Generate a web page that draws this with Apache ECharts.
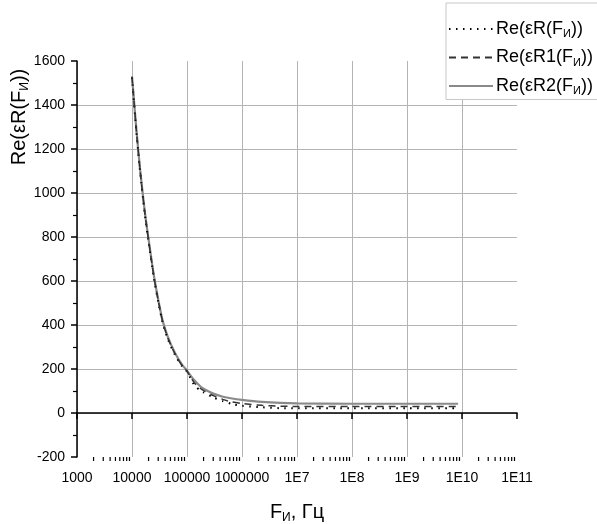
<!DOCTYPE html>
<html>
<head>
<meta charset="utf-8">
<script src="https://cdn.jsdelivr.net/npm/echarts@6/dist/echarts.min.js"></script>
<style>
  html, body { margin: 0; padding: 0; background: #fff; }
  #chart { width: 597px; height: 524px; }
</style>
</head>
<body>
<div id="chart"></div>
<script>
// частоты, Гц (общие для трёх кривых)
var freqs = [1e4, 1.2e4, 1.4e4, 1.7e4, 2e4, 2.5e4, 3e4, 3.6e4, 4.5e4, 6e4, 8e4, 1e5,
  1.35e5, 1.7e5, 2e5, 3e5, 4.5e5, 6.6e5, 1e6, 2.3e6, 5e6, 1e7, 1e8, 1e9, 8.5e9]
// Re(εR(F))  - пунктир точками
var reR = [1525, 1280, 1100, 910, 780, 615, 505, 412, 335, 266, 215, 188,
  128, 104, 94, 71, 54, 41, 33, 26, 22, 22, 22, 22, 22]
// Re(εR1(F)) - штрихи
var reR1 = [1528, 1285, 1105, 915, 785, 620, 510, 416, 340, 270, 218, 190,
  138, 114, 102, 79, 62, 50, 43, 35, 31, 30, 30, 30, 30]
// Re(εR2(F)) - сплошная
var reR2 = [1530, 1290, 1110, 920, 790, 625, 515, 420, 345, 275, 222, 192,
  150, 124, 110, 88, 74, 66, 60, 51, 46, 44, 42, 42, 42]

var seriesNames = ['Re(εR(FИ))', 'Re(εR1(FИ))', 'Re(εR2(FИ))']
var yTicks = { min: -200, max: 1600, step: 200 }
var xRange = { min: 1e3, max: 1e11 }

function pairs (vals) {
  return freqs.map(function (f, i) { return [f, vals[i]] })
}

// минорные деления логарифмической оси (2..9 в каждой декаде)
var minorX = []
for (var d = 3; d < 11; d++) {
  for (var k = 2; k <= 9; k++) minorX.push([k * Math.pow(10, d), yTicks.min])
}

var font = 'Liberation Sans, Arial, sans-serif'
var labelRich = {
  n: { fontSize: 18, fontFamily: font, color: '#000' },
  s: { fontSize: 11, fontFamily: font, color: '#000', padding: [10, 0, 0, 0] }
}
function subName (name) {
  // 'Re(εR(FИ))' -> rich text with subscript И
  var i = name.indexOf('И')
  return '{n|' + name.slice(0, i) + '}{s|И}{n|' + name.slice(i + 1) + '}'
}

var myChart = echarts.init(document.getElementById('chart'))
var option = {
  animation: false,
  grid: { left: 77, right: 80, top: 61, bottom: 67, outerBoundsMode: 'none', containLabel: false },
  legend: {
    orient: 'vertical',
    left: 446,
    top: 3,
    padding: [17, 12, 3, 2],
    itemGap: 9,
    itemWidth: 44,
    itemHeight: 18,
    backgroundColor: '#fff',
    borderColor: '#c8c8c8',
    borderWidth: 1,
    z: 10,
    data: seriesNames,
    itemStyle: { opacity: 0, borderWidth: 0 },
    formatter: function (name) { return subName(name) },
    textStyle: { rich: labelRich, padding: [0, 0, 0, -2] }
  },
  graphic: [{
    type: 'text',
    x: 19,
    y: 117,
    rotation: Math.PI / 2,
    style: {
      text: '{n|Re(εR(F}{s|И}{n|))}',
      align: 'center',
      verticalAlign: 'middle',
      rich: {
        n: { fontSize: 20, fontFamily: font, fill: '#000' },
        s: { fontSize: 12, fontFamily: font, fill: '#000', padding: [11, 0, 0, 0] }
      }
    }
  }],
  xAxis: {
    type: 'log',
    logBase: 10,
    min: xRange.min,
    max: xRange.max,
    name: '{n|F}{s|И}{n|, Гц}',
    nameLocation: 'middle',
    nameGap: 44,
    nameTextStyle: {
      rich: {
        n: { fontSize: 20, fontFamily: font, color: '#000' },
        s: { fontSize: 12, fontFamily: font, color: '#000', padding: [11, 0, 0, 0] }
      }
    },
    axisLine: { lineStyle: { color: '#000', width: 1.5 } },
    axisTick: { length: 6, lineStyle: { color: '#000', width: 1.5 } },
    axisLabel: {
      interval: 0,
      margin: 14,
      color: '#000',
      fontSize: 14,
      fontFamily: font,
      formatter: function (v) {
        var p = Math.round(Math.log10(v))
        return p < 7 ? String(Math.pow(10, p)) : '1E' + p
      }
    },
    splitLine: { show: true, showMinLine: false, showMaxLine: false, lineStyle: { color: '#b4b4b4', width: 1 } }
  },
  yAxis: {
    type: 'value',
    min: yTicks.min,
    max: yTicks.max,
    interval: yTicks.step,
    axisLine: { show: true, lineStyle: { color: '#000', width: 1.5 } },
    axisTick: { show: true, length: 6, lineStyle: { color: '#000', width: 1.5 } },
    minorTick: { show: true, splitNumber: 2, length: 4, lineStyle: { color: '#000', width: 1.2 } },
    axisLabel: {
      margin: 12, color: '#000', fontSize: 14, fontFamily: font,
      formatter: function (v) { return String(v) }
    },
    splitLine: { show: true, showMinLine: false, showMaxLine: false, lineStyle: { color: '#b4b4b4', width: 1 } }
  },
  series: [{
    name: seriesNames[0],
    type: 'line',
    symbol: 'none',
    smooth: 0.25,
    z: 3,
    lineStyle: { color: '#000', width: 2, type: [1.5, 5.5] },
    itemStyle: { color: '#000' },
    data: pairs(reR)
  }, {
    name: seriesNames[1],
    type: 'line',
    symbol: 'none',
    smooth: 0.25,
    z: 4,
    lineStyle: { color: '#333', width: 1.5, type: [7, 5] },
    itemStyle: { color: '#333' },
    data: pairs(reR1)
  }, {
    name: seriesNames[2],
    type: 'line',
    symbol: 'none',
    smooth: 0.25,
    z: 2,
    lineStyle: { color: '#8a8a8a', width: 2.2 },
    itemStyle: { color: '#8a8a8a' },
    data: pairs(reR2)
  }, {
    // минорные деления оси X
    type: 'custom',
    silent: true,
    clip: false,
    z: 5,
    renderItem: function (params, api) {
      var p = api.coord([api.value(0), api.value(1)])
      return {
        type: 'line',
        shape: { x1: p[0], y1: p[1], x2: p[0], y2: p[1] + 4 },
        style: { stroke: '#000', lineWidth: 1.2 }
      }
    },
    data: minorX
  }]
}
myChart.setOption(option)
</script>
</body>
</html>
